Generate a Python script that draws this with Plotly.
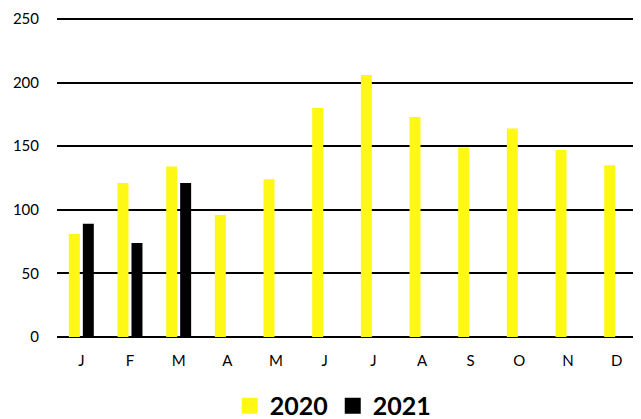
import plotly.graph_objects as go

months = ["Jan", "Feb", "Mar", "Apr", "May", "Jun", "Jul", "Aug", "Sep", "Oct", "Nov", "Dec"]
tick_labels = ["J", "F", "M", "A", "M", "J", "J", "A", "S", "O", "N", "D"]
values_2020 = [81, 121, 134, 96, 124, 180, 206, 173, 149, 164, 147, 135]
values_2021 = [89, 74, 121, None, None, None, None, None, None, None, None, None]
y_ticks = [0, 50, 100, 150, 200, 250]

YELLOW = "#FFF714"
BLACK = "#000000"
FONT = "Lato, 'Open Sans', sans-serif"

fig = go.Figure()
fig.add_trace(go.Bar(x=months, y=values_2020, name="2020", marker_color=YELLOW,
                     marker_line_width=0, showlegend=False))
fig.add_trace(go.Bar(x=months, y=values_2021, name="2021", marker_color=BLACK,
                     marker_line_width=0, showlegend=False))
# legend entries with larger square swatches
fig.add_trace(go.Scatter(x=[None], y=[None], mode="markers", name="2020",
                         marker=dict(symbol="square", size=18, color=YELLOW)))
fig.add_trace(go.Scatter(x=[None], y=[None], mode="markers", name="2021",
                         marker=dict(symbol="square", size=18, color=BLACK)))

# the page body adds an 8px margin, so the figure is sized to the remaining area
fig.update_layout(
    width=633, height=411,
    margin=dict(l=49, r=0, t=10, b=82, autoexpand=False),
    paper_bgcolor="white", plot_bgcolor="white",
    barmode="group", bargap=0.426, bargroupgap=0.214,
    font=dict(family=FONT, size=15, color="#000000"),
    legend=dict(orientation="h", x=0.473, xanchor="center", y=-0.216, yanchor="middle",
                font=dict(size=25, family=FONT, color="#000000", weight="bold"),
                itemwidth=30, tracegroupgap=0),
    xaxis=dict(type="category", categoryorder="array", categoryarray=months,
               tickvals=months, ticktext=tick_labels, showgrid=False,
               ticks="outside", ticklen=10, tickcolor="rgba(0,0,0,0)",
               showline=False, zeroline=False, fixedrange=True, automargin=False),
    yaxis=dict(range=[0, 250.8], tickvals=y_ticks, showgrid=True, gridcolor=BLACK,
               gridwidth=1.5, zeroline=True, zerolinecolor=BLACK, zerolinewidth=1.5,
               ticks="outside", ticklen=14, tickcolor="rgba(0,0,0,0)",
               showline=False, automargin=False),
)

fig.write_html("out.html")
